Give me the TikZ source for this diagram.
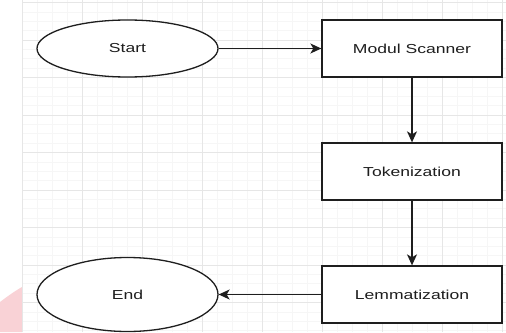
\documentclass[tikz,border=0pt]{standalone}
\usepackage{fontspec}
\setmainfont{Liberation Sans}
\newfontfamily\diagfont[FakeStretch=1.35]{Liberation Sans}
\usetikzlibrary{arrows.meta}
\definecolor{gridmajor}{HTML}{E6E6E6}
\definecolor{gridminor}{HTML}{F6F6F6}
\definecolor{pinkwm}{HTML}{F9D2D6}
\definecolor{inkline}{HTML}{1E1E1E}
\tikzset{
  procbox/.style={draw=inkline, line width=1.3pt, fill=white, minimum width=180pt, minimum height=57pt, inner sep=0pt, font=\diagfont\fontsize{13}{15}\selectfont, text=inkline},
  termnode/.style={draw=inkline, line width=1.3pt, fill=white, ellipse, inner sep=0pt, font=\diagfont\fontsize{13}{15}\selectfont, text=inkline},
  flowarrow/.style={draw=inkline, line width=1.3pt, -{Stealth[length=11pt,width=10pt,inset=3pt]}},
}
\usetikzlibrary{shapes.geometric}
\begin{document}
\begin{tikzpicture}[x=1pt,y=-1pt]
\useasboundingbox (0,0) rectangle (506,332);
\fill[white] (0,0) rectangle (506,332);
% pink watermark
\fill[pinkwm] (0,302) .. controls (8,296) and (15,291) .. (22,287) -- (22,332) -- (0,332) -- cycle;
% grid
\foreach \x in {37,52,67,97,112,127,157,172,187,217,232,247,277,292,307,337,352,367,397,412,427,457,472,487}
  \draw[gridminor, line width=0.6pt] (\x,0) -- (\x,332);
\foreach \k in {0,...,35}
  \draw[gridminor, line width=0.6pt] (22,{2.5+9.375*\k}) -- (506,{2.5+9.375*\k});
\foreach \x in {22,82,142,202,262,322,382,442,502}
  \draw[gridmajor, line width=0.9pt] (\x,0) -- (\x,332);
\foreach \y in {2.5,40,77.5,115,152.5,190,227.5,265,302.5}
  \draw[gridmajor, line width=0.9pt] (22,\y) -- (506,\y);
% nodes
\node[termnode, minimum width=181pt, minimum height=57pt] (start) at (127.5,48.5) {Start};
\node[procbox] (scan) at (412,48.5) {Modul Scanner};
\node[procbox] (tok) at (412,171.5) {Tokenization};
\node[procbox] (lem) at (412,294.5) {Lemmatization};
\node[termnode, minimum width=181pt, minimum height=74pt] (end) at (127.5,294.5) {End};
% connectors
\draw[flowarrow] (start) -- (scan);
\draw[flowarrow] (scan) -- (tok);
\draw[flowarrow] (tok) -- (lem);
\draw[flowarrow] (lem) -- (end);
\end{tikzpicture}
\end{document}
